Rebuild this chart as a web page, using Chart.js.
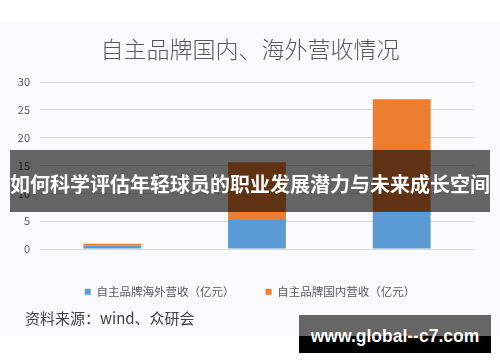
<!DOCTYPE html>
<html lang="zh">
<head>
  <meta charset="UTF-8" />
  <title>自主品牌国内、海外营收情况</title>
  <style>
    html, body { margin: 0; padding: 0; background: #fff; }
    .wrap { position: relative; width: 500px; height: 362px; overflow: hidden; }
    .panel { position: absolute; left: 0; top: 22px; width: 500px; height: 314px; background: #fbfbfd; }
    canvas { position: absolute; left: 0; top: 0; }
    .source {
      position: absolute; left: 25px; top: 308px;
      font: 15px 'Noto Sans CJK SC', sans-serif; color: #404040; line-height: 20px;
    }
    .banner {
      position: absolute; left: 10px; top: 150px; width: 480px; height: 62px;
      background: rgba(0,0,0,0.6); color: #fff;
      font: bold 20px 'Noto Sans CJK SC', sans-serif;
      line-height: 62px; text-align: center; white-space: nowrap;
    }
    .banner span { position: relative; top: 3px; }
    .mark {
      position: absolute; left: 299px; top: 315px; width: 192px; height: 38px;
      background: linear-gradient(to bottom, #666 0, #666 21px, #000 21px);
      color: #fff; font: bold 17.5px 'Liberation Sans', Arial, sans-serif;
      text-align: center; line-height: 38px; white-space: nowrap;
    }
    .mark span { position: relative; top: 2px; }
  </style>
</head>
<body>
  <div class="wrap">
    <div class="panel"></div>
    <canvas id="revChart" width="500" height="362"></canvas>
    <div class="source">资料来源：wind、众研会</div>
    <div class="banner"><span>如何科学评估年轻球员的职业发展潜力与未来成长空间</span></div>
    <div class="mark"><span>www.global--c7.com</span></div>
  </div>

  <script src="https://cdn.jsdelivr.net/npm/chart.js"></script>
  <script>
    const years = ['2017', '2018', '2019'];
    const overseasRevenue = [0.65, 5.2, 6.7];
    const domesticRevenue = [0.3, 10.4, 20.2];
    const yTicks = [0, 5, 10, 15, 20, 25, 30];

    Chart.defaults.font.family = "'Noto Sans CJK SC', sans-serif";
    Chart.defaults.color = '#595959';

    const ctx = document.getElementById('revChart').getContext('2d');
    new Chart(ctx, {
      type: 'bar',
      data: {
        labels: years,
        datasets: [
          {
            label: '自主品牌海外营收（亿元）',
            data: overseasRevenue,
            backgroundColor: '#5b9bd5',
            borderWidth: 0,
            barPercentage: 0.4,
            categoryPercentage: 1
          },
          {
            label: '自主品牌国内营收（亿元）',
            data: domesticRevenue,
            backgroundColor: '#ed7d31',
            borderWidth: 0,
            barPercentage: 0.4,
            categoryPercentage: 1
          }
        ]
      },
      options: {
        responsive: false,
        animation: false,
        layout: { padding: { left: 0, right: 0, top: 0, bottom: 54.5 } },
        plugins: {
          tooltip: { enabled: false },
          title: {
            display: true,
            text: '自主品牌国内、海外营收情况',
            color: '#595959',
            font: { size: 23, weight: '300' },
            padding: { top: 35.2, bottom: 19.2 }
          },
          legend: {
            position: 'bottom',
            labels: {
              boxWidth: 6,
              boxHeight: 6,
              padding: 31,
              color: '#595959',
              font: { size: 11.5 }
            }
          }
        },
        scales: {
          x: {
            stacked: true,
            grid: { display: false },
            border: { display: false },
            ticks: { padding: 8, font: { size: 11 } },
            afterFit(s) { s.height = 6; }
          },
          y: {
            stacked: true,
            min: 0,
            max: 30,
            afterBuildTicks(s) { s.ticks = yTicks.map(v => ({ value: v })); },
            grid: { color: '#d9d9d9', drawTicks: false },
            border: { display: false },
            ticks: { padding: 10, font: { size: 11 } },
            afterFit(s) { s.width = 40; }
          },
          yRight: {
            type: 'linear',
            position: 'right',
            grid: { display: false },
            border: { display: false },
            ticks: { display: false },
            afterFit(s) { s.width = 26; }
          }
        }
      }
    });
  </script>
</body>
</html>
